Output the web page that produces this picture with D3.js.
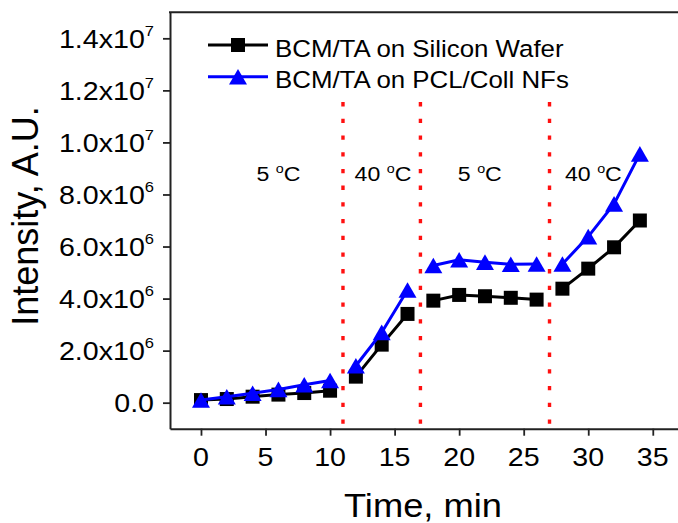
<!DOCTYPE html>
<html>
<head>
<meta charset="utf-8">
<script src="https://cdn.jsdelivr.net/npm/d3@7"></script>
<style>
  body { margin: 0; background: #fff; }
  text { font-family: "Liberation Sans", Arial, sans-serif; fill: #000; }
</style>
</head>
<body>
<div id="vis"></div>
<script>
// datos
const TIEMPOS = [0, 2, 4, 6, 8, 10, 12, 14, 16, 18, 20, 22, 24, 26, 28, 30, 32, 34];
const SILICIO = [0.10e6, 0.14e6, 0.23e6, 0.31e6, 0.37e6, 0.46e6, 1.00e6, 2.23e6, 3.41e6,
  3.92e6, 4.14e6, 4.09e6, 4.03e6, 3.96e6, 4.38e6, 5.15e6, 5.97e6, 7.00e6];
const NANOFIBRAS = [0.10e6, 0.23e6, 0.36e6, 0.51e6, 0.69e6, 0.85e6, 1.42e6, 2.70e6, 4.33e6,
  5.27e6, 5.49e6, 5.40e6, 5.32e6, 5.33e6, 5.33e6, 6.38e6, 7.64e6, 9.56e6];
const SERIES = ["BCM/TA on Silicon Wafer", "BCM/TA on PCL/Coll NFs"];

const CAMBIOS = [11, 17, 27];
const ETIQUETAS_T = ["5", "40", "5", "40"];
const POS_T = [6, 14.1, 21.6, 30.4];

const TICKS_X = [0, 5, 10, 15, 20, 25, 30, 35];
const TICKS_Y = [0, 2e6, 4e6, 6e6, 8e6, 10e6, 12e6, 14e6];

const WIDTH = 678;
const HEIGHT = 523;
const ESTIRAR = 1.1;

const SVG = d3.select("#vis").append("svg")
  .attr("width", WIDTH)
  .attr("height", HEIGHT);

const MARGINS = { TOP: 12.3, LEFT: 170, BOTTOM: 428.7, RIGHT: 678.6 };

const escalaX = d3.scaleLinear()
  .domain([-2.4, 37])
  .range([MARGINS.LEFT, MARGINS.RIGHT]);

const escalaY = d3.scaleLinear()
  .domain([-1e6, 1.5e7])
  .range([MARGINS.BOTTOM, MARGINS.TOP]);

const COLOR_EJE = "#222";

// lineas rojas punteadas
SVG.append("g")
  .selectAll("line")
  .data(CAMBIOS)
  .join("line")
  .attr("x1", d => escalaX(d))
  .attr("x2", d => escalaX(d))
  .attr("y1", escalaY(11.55e6))
  .attr("y2", MARGINS.BOTTOM)
  .attr("stroke", "#ff1010")
  .attr("stroke-width", 3.4)
  .attr("stroke-dasharray", "4.3 12.4");

// ejes
const ejeX = SVG.append("g")
  .attr("transform", `translate(0, ${MARGINS.BOTTOM})`)
  .call(d3.axisBottom(escalaX).tickValues(TICKS_X).tickSize(7).tickSizeOuter(0).tickFormat(""));

const ejeY = SVG.append("g")
  .attr("transform", `translate(${MARGINS.LEFT}, 0)`)
  .call(d3.axisLeft(escalaY).tickValues(TICKS_Y).tickSize(7).tickSizeOuter(0).tickFormat(""));

[ejeX, ejeY].forEach(eje => {
  eje.select(".domain").attr("stroke", COLOR_EJE).attr("stroke-width", 2);
  eje.selectAll(".tick line").attr("stroke", COLOR_EJE).attr("stroke-width", 1.8);
});

SVG.append("line")
  .attr("x1", MARGINS.LEFT - 1)
  .attr("x2", WIDTH)
  .attr("y1", MARGINS.TOP)
  .attr("y2", MARGINS.TOP)
  .attr("stroke", COLOR_EJE)
  .attr("stroke-width", 2);

// etiquetas eje X
SVG.append("g")
  .selectAll("g")
  .data(TICKS_X)
  .join("g")
  .attr("transform", d => `translate(${escalaX(d)}, 466)`)
  .append("text")
  .attr("transform", `scale(${ESTIRAR}, 1)`)
  .attr("text-anchor", "middle")
  .style("font-size", "26px")
  .text(d => d);

// etiquetas eje Y con exponente
const etiquetasY = SVG.append("g")
  .selectAll("g")
  .data(TICKS_Y)
  .join("g")
  .attr("transform", d => `translate(${MARGINS.LEFT - 16}, ${escalaY(d) + 9.3})`)
  .append("text")
  .attr("transform", `scale(${ESTIRAR}, 1)`)
  .attr("text-anchor", "end")
  .style("font-size", "26px");

etiquetasY.each(function (d) {
  const t = d3.select(this);
  if (d === 0) {
    t.text("0.0");
    return;
  }
  const exp = Math.floor(Math.log10(d));
  const mant = (d / Math.pow(10, exp)).toFixed(1);
  t.append("tspan").text(`${mant}x10`);
  t.append("tspan").attr("dy", -12).style("font-size", "15px").text(exp);
});

// titulos
SVG.append("g")
  .attr("transform", `translate(${escalaX(17.2)}, 517)`)
  .append("text")
  .attr("transform", `scale(${ESTIRAR}, 1)`)
  .attr("text-anchor", "middle")
  .style("font-size", "33px")
  .text("Time, min");

SVG.append("text")
  .attr("transform", "translate(38, 216) rotate(-90)")
  .attr("text-anchor", "middle")
  .style("font-size", "36px")
  .text("Intensity, A.U.");

// etiquetas de temperatura
const temps = SVG.append("g")
  .selectAll("g")
  .data(ETIQUETAS_T)
  .join("g")
  .attr("transform", (d, i) => `translate(${escalaX(POS_T[i])}, 181)`)
  .append("text")
  .attr("transform", `scale(${ESTIRAR}, 1)`)
  .attr("text-anchor", "middle")
  .style("font-size", "21px");

temps.append("tspan").text(d => d + " ");
temps.append("tspan").attr("dy", -8).style("font-size", "13px").text("o");
temps.append("tspan").attr("dy", 8).text("C");

// series
const tramo = t => d3.bisect(CAMBIOS, t);

const linea = d3.line()
  .x(d => escalaX(d.t))
  .y(d => escalaY(d.v));

const triangulo = "M0,-7.8L9,7.8L-9,7.8Z";
const cuadrado = "M-7,-7H7V7H-7Z";

const datosSeries = [
  { nombre: SERIES[0], valores: SILICIO, color: "#000", marca: cuadrado },
  { nombre: SERIES[1], valores: NANOFIBRAS, color: "#0000ff", marca: triangulo }
];

datosSeries.forEach(serie => {
  const puntos = TIEMPOS.map((t, i) => ({ t: t, v: serie.valores[i], g: tramo(t) }));
  const grupos = d3.groups(puntos, d => d.g).map(d => d[1]);

  const cont = SVG.append("g");

  cont.selectAll("path.linea")
    .data(grupos)
    .join("path")
    .attr("class", "linea")
    .attr("d", linea)
    .attr("fill", "none")
    .attr("stroke", serie.color)
    .attr("stroke-width", 3);

  cont.selectAll("path.marca")
    .data(puntos)
    .join("path")
    .attr("class", "marca")
    .attr("transform", d => `translate(${escalaX(d.t)}, ${escalaY(d.v)})`)
    .attr("d", serie.marca)
    .attr("fill", serie.color);
});

// leyenda
const leyenda = SVG.append("g")
  .selectAll("g")
  .data(datosSeries)
  .join("g")
  .attr("transform", (d, i) => `translate(208, ${45 + i * 31.7})`);

leyenda.append("line")
  .attr("x1", 0)
  .attr("x2", 60)
  .attr("stroke", d => d.color)
  .attr("stroke-width", 3);

leyenda.append("path")
  .attr("transform", "translate(30, 0)")
  .attr("d", d => d.marca)
  .attr("fill", d => d.color);

leyenda.append("g")
  .attr("transform", "translate(67, 11.5)")
  .append("text")
  .attr("transform", `scale(${ESTIRAR}, 1)`)
  .style("font-size", "23.5px")
  .text(d => d.nombre);
</script>
</body>
</html>
